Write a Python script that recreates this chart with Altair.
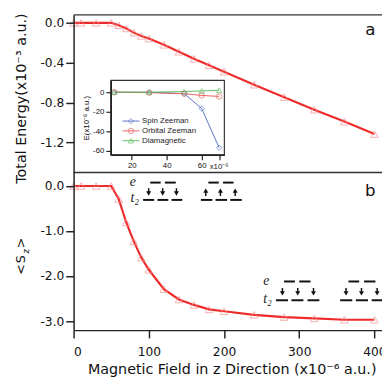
import altair as alt
import pandas as pd

# ---------------- data ----------------
field = [0, 10, 30, 50, 60, 70, 80, 90, 100, 120, 140, 160, 180, 200, 240, 280, 320, 360, 400]
energy = [0, 0, 0, 0, -0.024, -0.056, -0.098, -0.131, -0.157, -0.22, -0.29, -0.36,
          -0.425, -0.49, -0.62, -0.745, -0.87, -0.99, -1.115]
sz = [0, 0, 0, 0, -0.29, -0.81, -1.23, -1.59, -1.86, -2.29, -2.52, -2.64,
      -2.74, -2.78, -2.86, -2.91, -2.94, -2.97, -2.97]

inset_field = [10, 30, 50, 60, 70]
spin_zeeman = [0, 0, -1.5, -16.7, -56.7]
orbital_zeeman = [0, -0.5, -1.5, -3.3, -4.3]
diamagnetic = [0, 0, 0.7, 1.3, 2.0]
series_names = ["Spin Zeeman", "Orbital Zeeman", "Diamagnetic"]
series_colors = ["#5a72c8", "#e8605c", "#62bb62"]
series_shapes = ["diamond", "circle", "triangle-up"]

x_ticks = [0, 100, 200, 300, 400]
top_ticks = [0, -0.4, -0.8, -1.2]
bot_ticks = [0, -1, -2, -3]
inset_x_ticks = [20, 40, 60, 70]
inset_y_ticks = [0, -20, -40, -60]

# energy-level diagrams (bottom panel, data units)
dash_x1 = [92.4, 111.5, 130.2, 101.9, 121.4,
           169.2, 188.7, 208.3, 179.2, 198.7,
           269.0, 289.6, 311.0, 279.8, 300.0,
           354.4, 375.2, 396.3, 365.4, 386.2]
dash_x2 = [107.1, 125.9, 144.5, 115.8, 135.8,
           184.4, 204.0, 223.5, 193.0, 212.6,
           285.0, 305.5, 326.7, 294.2, 315.0,
           370.5, 391.4, 410.0, 379.7, 401.3]
dash_y = [-0.309] * 3 + [0.076] * 2 + [-0.309] * 3 + [0.076] * 2 + \
         [-2.537] * 3 + [-2.12] * 2 + [-2.537] * 3 + [-2.12] * 2
down_x = [99.8, 118.4, 136.7, 277.6, 298.0, 318.9, 362.2, 382.7, 403.5]
down_top = [-0.048] * 3 + [-2.265] * 6
down_bot = [-0.15] * 3 + [-2.37] * 6
down_head = [-0.167] * 3 + [-2.385] * 6
up_x = [175.7, 195.2, 214.8]
up_head = [-0.102] * 3
up_top = [-0.12] * 3
up_bot = [-0.222] * 3
lvl_text = ["e", "t\u2082", "e", "t\u2082"]
lvl_x = [78.7, 81.3, 256.0, 257.7]
lvl_y = [0.089, -0.265, -2.107, -2.52]

# ---------------- layout ----------------
W, H, HP = 315, 322, 161
RED = "#ee2b2b"
PINK = "#f29191"
MINUS = "replace(datum.label, '\u2212', '-')"


def xs():
    return alt.Scale(domain=[0, 410], range=[0, W], nice=False, zero=False)


def ytop():
    return alt.Scale(domain=[-1.5, 0.08], range=[HP, 0], nice=False, zero=False)


def ybot():
    return alt.Scale(domain=[-3.2, 0.3], range=[H, HP], nice=False, zero=False)


def xin():
    return alt.Scale(domain=[8, 73], range=[38, 154], nice=False, zero=False)


def yin():
    return alt.Scale(domain=[-64, 12], range=[143, 67], nice=False, zero=False)


main = pd.DataFrame({"field": field, "energy": energy, "sz": sz})
one = pd.DataFrame({"a": [0]})

layers = []

# top panel
layers.append(alt.Chart(main).mark_line(color=RED, strokeWidth=2.2).encode(
    x=alt.X("field:Q", scale=xs(), axis=None),
    y=alt.Y("energy:Q", scale=ytop(), axis=alt.Axis(
        orient="left", values=top_ticks, format=".1f", labelExpr=MINUS, title=None,
        grid=False, tickSize=8, labelPadding=2, zindex=1)),
))
layers.append(alt.Chart(main).mark_point(shape="triangle-up", color=PINK, size=60,
                                         strokeWidth=1, filled=False).encode(
    x=alt.X("field:Q", scale=xs(), axis=None),
    y=alt.Y("energy:Q", scale=ytop(), axis=None),
))

# bottom panel
layers.append(alt.Chart(main).mark_line(color=RED, strokeWidth=2.2).encode(
    x=alt.X("field:Q", scale=xs(), axis=alt.Axis(
        orient="bottom", values=x_ticks, title=None, grid=False, tickSize=8,
        labelPadding=8, zindex=1)),
    y=alt.Y("sz:Q", scale=ybot(), axis=alt.Axis(
        orient="left", values=bot_ticks, format=".1f", labelExpr=MINUS, title=None,
        grid=False, tickSize=8, labelPadding=2, zindex=1)),
))
layers.append(alt.Chart(main).mark_point(shape="triangle-up", color=PINK, size=60,
                                         strokeWidth=1, filled=False).encode(
    x=alt.X("field:Q", scale=xs(), axis=None),
    y=alt.Y("sz:Q", scale=ybot(), axis=None),
))

# top frame line and separator between panels
layers.append(alt.Chart(one).mark_rule(color="#333", strokeWidth=1.5).encode(
    x=alt.value(0), x2=alt.value(W), y=alt.value(HP)))
layers.append(alt.Chart(one).mark_rule(color="#333", strokeWidth=1.5).encode(
    x=alt.value(0), x2=alt.value(W), y=alt.value(0)))

# inset frame
frame = pd.DataFrame({"x1": [8], "x2": [73], "y1": [-64], "y2": [12]})
layers.append(alt.Chart(frame).mark_rect(fill="white", stroke="#333", strokeWidth=1.2).encode(
    x=alt.X("x1:Q", scale=xin(), axis=None), x2="x2:Q",
    y=alt.Y("y1:Q", scale=yin(), axis=None), y2="y2:Q"))

inset = pd.DataFrame({
    "field": inset_field * 3,
    "val": spin_zeeman + orbital_zeeman + diamagnetic,
    "series": [s for s in series_names for _ in inset_field],
})
col = alt.Color("series:N", scale=alt.Scale(domain=series_names, range=series_colors), legend=None)
layers.append(alt.Chart(inset).mark_line(strokeWidth=1).encode(
    x=alt.X("field:Q", scale=xin(), axis=alt.Axis(
        orient="bottom", offset=-(H - 143), values=inset_x_ticks,
        labelExpr="datum.value == 70 ? '' : datum.label", tickSize=5, labelPadding=2,
        labelFontSize=8, labelFont="Liberation Sans", title=None, grid=False, zindex=1,
        domainWidth=1.5, tickWidth=1.2)),
    y=alt.Y("val:Q", scale=yin(), axis=alt.Axis(
        orient="left", offset=-38, values=inset_y_ticks, labelExpr=MINUS, tickSize=5,
        labelPadding=2, labelFontSize=8, labelFont="Liberation Sans",
        title="E(x10\u207b\u2076 a.u.)", titleFontSize=8, titleFont="Liberation Sans",
        titleFontWeight="normal", titlePadding=2, grid=False, zindex=1,
        domainWidth=1.5, tickWidth=1.2)),
    color=col, detail="series:N",
))
layers.append(alt.Chart(inset).mark_point(filled=False, size=30, strokeWidth=1).encode(
    x=alt.X("field:Q", scale=xin(), axis=None),
    y=alt.Y("val:Q", scale=yin(), axis=None),
    color=col,
    shape=alt.Shape("series:N", scale=alt.Scale(domain=series_names, range=series_shapes), legend=None),
))

# inset legend
leg = pd.DataFrame({"series": series_names, "ly": [-29.5, -39.5, -49.5],
                    "lx1": [14.7] * 3, "lx2": [24.4] * 3, "lmx": [19.5] * 3, "ltx": [25.9] * 3})
layers.append(alt.Chart(leg).mark_rule(strokeWidth=1).encode(
    x=alt.X("lx1:Q", scale=xin(), axis=None), x2="lx2:Q",
    y=alt.Y("ly:Q", scale=yin(), axis=None), color=col))
layers.append(alt.Chart(leg).mark_point(filled=False, size=30, strokeWidth=1).encode(
    x=alt.X("lmx:Q", scale=xin(), axis=None),
    y=alt.Y("ly:Q", scale=yin(), axis=None), color=col,
    shape=alt.Shape("series:N", scale=alt.Scale(domain=series_names, range=series_shapes), legend=None)))
layers.append(alt.Chart(leg).mark_text(align="left", baseline="middle", fontSize=8,
                                       font="Liberation Sans", color="#222").encode(
    x=alt.X("ltx:Q", scale=xin(), axis=None),
    y=alt.Y("ly:Q", scale=yin(), axis=None), text="series:N"))
exp = pd.DataFrame({"x": [70], "y": [-76.5], "t": ["x10\u207b\u2076"]})
layers.append(alt.Chart(exp).mark_text(align="center", baseline="middle", fontSize=8,
                                       font="Liberation Sans", color="#222").encode(
    x=alt.X("x:Q", scale=xin(), axis=None),
    y=alt.Y("y:Q", scale=yin(), axis=None), text="t:N"))

# energy-level diagrams
dashes = pd.DataFrame({"x1": dash_x1, "x2": dash_x2, "y": dash_y})
layers.append(alt.Chart(dashes).mark_rule(color="#111", strokeWidth=2).encode(
    x=alt.X("x1:Q", scale=xs(), axis=None), x2="x2:Q",
    y=alt.Y("y:Q", scale=ybot(), axis=None)))
downs = pd.DataFrame({"x": down_x, "t": down_top, "b": down_bot, "h": down_head})
layers.append(alt.Chart(downs).mark_rule(color="#111", strokeWidth=1.5).encode(
    x=alt.X("x:Q", scale=xs(), axis=None),
    y=alt.Y("t:Q", scale=ybot(), axis=None), y2="b:Q"))
layers.append(alt.Chart(downs).mark_point(shape="triangle-down", filled=True, color="#111",
                                          size=26, opacity=1).encode(
    x=alt.X("x:Q", scale=xs(), axis=None),
    y=alt.Y("h:Q", scale=ybot(), axis=None)))
ups = pd.DataFrame({"x": up_x, "t": up_top, "b": up_bot, "h": up_head})
layers.append(alt.Chart(ups).mark_rule(color="#111", strokeWidth=1.5).encode(
    x=alt.X("x:Q", scale=xs(), axis=None),
    y=alt.Y("t:Q", scale=ybot(), axis=None), y2="b:Q"))
layers.append(alt.Chart(ups).mark_point(shape="triangle-up", filled=True, color="#111",
                                        size=26, opacity=1).encode(
    x=alt.X("x:Q", scale=xs(), axis=None),
    y=alt.Y("h:Q", scale=ybot(), axis=None)))
lv = pd.DataFrame({"x": lvl_x, "y": lvl_y, "t": lvl_text})
layers.append(alt.Chart(lv).mark_text(font="Liberation Serif", fontStyle="italic", fontSize=14,
                                      color="#222", align="center", baseline="middle").encode(
    x=alt.X("x:Q", scale=xs(), axis=None),
    y=alt.Y("y:Q", scale=ybot(), axis=None), text="t:N"))

# titles and panel labels


def label(txt, x, y, size, angle=0, font="DejaVu Sans"):
    return alt.Chart(one).mark_text(text=txt, fontSize=size, font=font, angle=angle,
                                    align="center", baseline="middle", color="#111").encode(
        x=alt.value(x), y=alt.value(y))


layers.append(label("Total Energy(x10\u207b\u00b3 a.u.)", -53, 85.5, 14.6, 270))
layers.append(label("<", -54, 260, 13, 270))
layers.append(label("S", -54, 249.5, 13, 270))
layers.append(label("z", -48.5, 241.5, 9, 270))
layers.append(label(">", -54, 233, 13, 270))
layers.append(label("Magnetic Field in z Direction (x10\u207b\u2076 a.u.)", 162, 363, 14.6))
layers.append(label("a", 303, 15.2, 17))
layers.append(label("b", 303, 179.5, 17))

chart = alt.layer(*layers).resolve_scale(
    x="independent", y="independent", color="independent", shape="independent"
).properties(
    width=W, height=H,
    autosize=alt.AutoSizeParams(type="none"),
    padding={"left": 67, "top": 3, "right": 0, "bottom": 50},
).configure_view(stroke="transparent").configure_axis(
    domainColor="#222", domainWidth=1.5, tickColor="#222", tickWidth=1.5,
    labelColor="#111", labelFont="DejaVu Sans", labelFontSize=12.5,
)

chart.save("out.html", embed_options={"renderer": "svg", "actions": False})
